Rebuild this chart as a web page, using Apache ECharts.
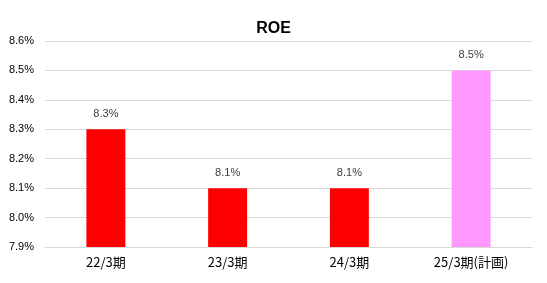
<!DOCTYPE html>
<html><head><meta charset="utf-8">
<script src="https://cdn.jsdelivr.net/npm/echarts@6/dist/echarts.min.js"></script>
<style>html,body{margin:0;padding:0;background:#fff}#c{width:547px;height:283px}</style>
</head><body><div id="c"></div>
<script>
const categories = ['22/3期', '23/3期', '24/3期', '25/3期(計画)'];
const roeValues = [8.3, 8.1, 8.1, 8.5];
const barColors = ['#FF0000', '#FF0000', '#FF0000', '#FF99FF'];
const yMin = 7.9, yMax = 8.6, yStep = 0.1;

const chart = echarts.init(document.getElementById('c'), null, {renderer: 'canvas'});
const font = '"Liberation Sans", Arial, "Noto Sans CJK JP", sans-serif';
const cjk = '"Noto Sans CJK JP", sans-serif';
chart.setOption({
  animation: false,
  title: {text: 'ROE', left: 'center', top: 16, textStyle: {fontFamily: font, fontSize: 16, fontWeight: 'bold', color: '#000'}},
  grid: {left: 45, right: 15, top: 41, bottom: 36, containLabel: false},
  xAxis: {
    type: 'category', data: categories,
    axisLine: {lineStyle: {color: '#d9d9d9', width: 1}},
    axisTick: {show: false},
    axisLabel: {color: '#000', fontSize: 13, fontFamily: cjk, margin: 9}
  },
  yAxis: {
    type: 'value', min: yMin, max: yMax, interval: yStep,
    axisLine: {show: false}, axisTick: {show: false},
    splitLine: {lineStyle: {color: '#d9d9d9', width: 1}},
    axisLabel: {color: '#000', fontSize: 11, fontFamily: font, margin: 11,
      formatter: v => v.toFixed(1) + '%'}
  },
  series: [{
    type: 'bar', barWidth: '32%',
    data: roeValues.map((v, i) => ({value: v, itemStyle: {color: barColors[i]}})),
    label: {show: true, position: 'top', distance: 10, color: '#404040', fontSize: 11, fontFamily: font,
      formatter: p => p.value.toFixed(1) + '%'}
  }]
});
</script></body></html>
